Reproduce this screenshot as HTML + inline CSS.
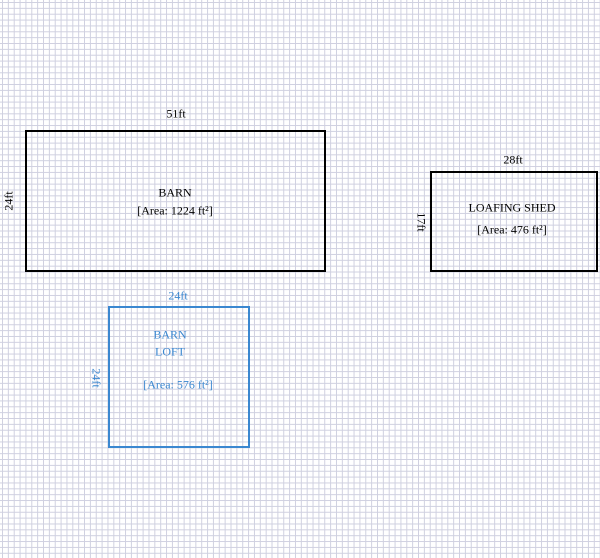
<!DOCTYPE html>
<html><head><style>
body{margin:0;width:600px;height:558px;overflow:hidden;background:#fff;
background-image:linear-gradient(to right,#cfd0e0 1px,transparent 1px),linear-gradient(to bottom,#cfd0e0 1px,transparent 1px);
background-size:5.86px 5.86px;background-position:2px 2px;font-family:"Liberation Serif",serif;font-size:12px;}
.t{position:absolute;white-space:nowrap;transform:translate(-50%,-50%);}
.b{position:absolute;box-sizing:border-box;}
</style></head><body>
<div class="b" style="left:25px;top:130px;width:301px;height:142px;border:2px solid #000"></div>
<div class="b" style="left:430px;top:171px;width:168px;height:101px;border:2px solid #000"></div>
<div class="b" style="left:108px;top:306px;width:142px;height:142px;border:2px solid #3a87d0"></div>
<div class="t" style="left:176px;top:114px">51ft</div>
<div class="t" style="left:9px;top:201px;transform:translate(-50%,-50%) rotate(-90deg)">24ft</div>
<div class="t" style="left:175px;top:193px">BARN</div>
<div class="t" style="left:175px;top:211px">[Area: 1224 ft²]</div>
<div class="t" style="left:513px;top:160px">28ft</div>
<div class="t" style="left:421px;top:222px;transform:translate(-50%,-50%) rotate(90deg)">17ft</div>
<div class="t" style="left:512px;top:208px">LOAFING SHED</div>
<div class="t" style="left:512px;top:230px">[Area: 476 ft²]</div>
<div class="t" style="left:178px;top:296px;color:#3a87d0">24ft</div>
<div class="t" style="left:96px;top:378px;color:#3a87d0;transform:translate(-50%,-50%) rotate(90deg)">24ft</div>
<div class="t" style="left:170px;top:335px;color:#3a87d0">BARN</div>
<div class="t" style="left:170px;top:352px;color:#3a87d0">LOFT</div>
<div class="t" style="left:178px;top:385px;color:#3a87d0">[Area: 576 ft²]</div>
</body></html>
